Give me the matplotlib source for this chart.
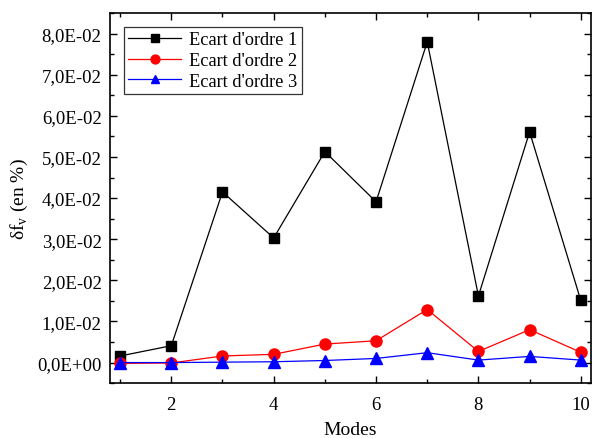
import matplotlib
matplotlib.use("Agg")
import matplotlib.pyplot as plt
from matplotlib.ticker import MultipleLocator, FuncFormatter

plt.rcParams['font.family'] = ['Liberation Serif', 'DejaVu Serif']
plt.rcParams['mathtext.fontset'] = 'custom'
plt.rcParams['mathtext.rm'] = 'Liberation Serif'

# ecarts relatifs des frequences propres par mode
modes = [1, 2, 3, 4, 5, 6, 7, 8, 9, 10]
ordre1 = [0.0016, 0.0041, 0.0415, 0.0303, 0.0513, 0.0391, 0.0780, 0.0162, 0.0561, 0.0151]
ordre2 = [-0.0002, -0.0001, 0.0016, 0.0020, 0.0045, 0.0053, 0.0129, 0.0027, 0.0080, 0.0025]
ordre3 = [0.0000, 0.0000, 0.0001, 0.0002, 0.0005, 0.0010, 0.0024, 0.0006, 0.0015, 0.0006]


def sci_comma(v, pos):
    s = "%.1E" % v
    if s.startswith("-0.0"):
        s = s[1:]
    return s.replace(".", ",")


fig = plt.figure(figsize=(5.94, 4.39), dpi=100)
ax = fig.add_axes([0.185, 0.125, 0.81, 0.843])

ax.plot(modes, ordre1, color="black", marker="s", markersize=7, lw=0.9, label="Ecart d'ordre 1")
ax.plot(modes, ordre2, color="red", marker="o", markersize=8, lw=0.9, label="Ecart d'ordre 2")
ax.plot(modes, ordre3, color="blue", marker="^", markersize=8, lw=0.9, label="Ecart d'ordre 3")

ax.set_xlim(0.8, 10.2)
ax.set_ylim(-0.005, 0.085)
ax.xaxis.set_major_locator(MultipleLocator(2))
ax.xaxis.set_minor_locator(MultipleLocator(1))
ax.yaxis.set_major_locator(MultipleLocator(0.01))
ax.yaxis.set_minor_locator(MultipleLocator(0.005))
ax.yaxis.set_major_formatter(FuncFormatter(sci_comma))

ax.tick_params(which="both", direction="in", top=True, right=True, labelsize=13.5)
ax.tick_params(which="major", length=5, width=1, pad=6)
ax.tick_params(which="minor", length=3, width=1)
ax.tick_params(axis="x", which="major", pad=9)
for sp in ax.spines.values():
    sp.set_linewidth(1.2)

ax.set_xlabel("Modes", fontsize=14, labelpad=6)
ax.set_ylabel(r"δf$_\mathrm{v}$ (en %)", fontsize=14, labelpad=5)

leg = ax.legend(loc="upper left", fontsize=13.2, fancybox=False, edgecolor="black",
                handlelength=2.9, handletextpad=0.4, borderpad=0.25, labelspacing=0.2,
                borderaxespad=0.75, markerscale=0.8)
leg.get_frame().set_linewidth(0.9)

fig.savefig("out.png", dpi=100)
